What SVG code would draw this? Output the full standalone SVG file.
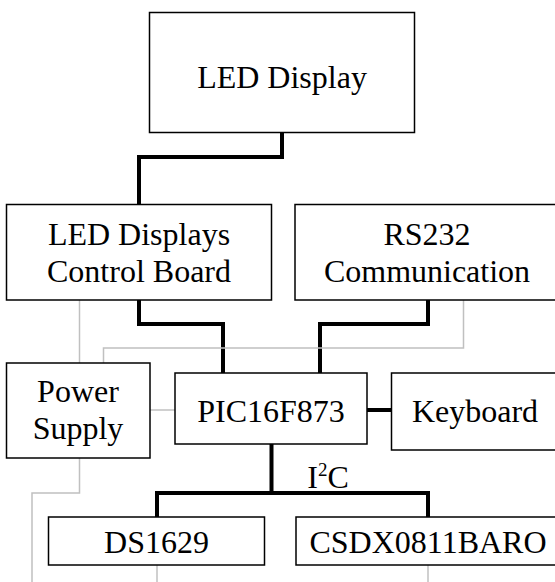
<svg xmlns="http://www.w3.org/2000/svg" width="555" height="582" viewBox="0 0 555 582">
<style>
.box{fill:#fff;stroke:#000;stroke-width:1.5}
.t{font-family:"Liberation Serif","Times New Roman",serif;font-size:32px;fill:#000;text-anchor:middle}
.bus{fill:none;stroke:#000;stroke-width:4;stroke-linejoin:miter}
.pwr{fill:none;stroke:#c0c0c0;stroke-width:1.5}
</style>
<rect width="555" height="582" fill="#fff"/>
<g id="connectors">
<path class="bus" d="M282,133 V157 H139 V204"/>
<path class="bus" d="M139,300 V324 H223 V373"/>
<path class="bus" d="M428,300 V324 H320 V373"/>
<path class="bus" d="M367,410 H391"/>
<path class="bus" d="M271.5,444 V493 M157,517 V493 H428 V517"/>
<path class="pwr" d="M79.5,300 V363"/>
<path class="pwr" d="M463.5,300 V348 H103.5 V363"/>
<path class="pwr" d="M150,410 H175"/>
<path class="pwr" d="M79.5,458 V493 H32 V582"/>
<path class="pwr" d="M157,565 V582"/>
<path class="pwr" d="M428,565 V582"/>
<text class="t" x="328" y="488">I<tspan font-size="19" dy="-12">2</tspan><tspan dy="12">C</tspan></text>
</g>
<g id="led-display">
<rect class="box" x="149.5" y="12.5" width="265" height="120"/>
<text class="t" x="282" y="88">LED Display</text>
</g>
<g id="led-control-board">
<rect class="box" x="6.5" y="204.5" width="265" height="95.5"/>
<text class="t" x="139" y="245">LED Displays</text>
<text class="t" x="139" y="282">Control Board</text>
</g>
<g id="rs232">
<rect class="box" x="295" y="204.5" width="265" height="95.5"/>
<text class="t" x="427" y="245">RS232</text>
<text class="t" x="427" y="282">Communication</text>
</g>
<g id="power-supply">
<rect class="box" x="6.5" y="363" width="143.5" height="95"/>
<text class="t" x="78" y="402">Power</text>
<text class="t" x="78" y="439">Supply</text>
</g>
<g id="pic">
<rect class="box" x="175" y="373" width="192" height="71"/>
<text class="t" x="271" y="422">PIC16F873</text>
</g>
<g id="keyboard">
<rect class="box" x="391.5" y="373" width="170" height="77"/>
<text class="t" x="475" y="422">Keyboard</text>
</g>
<g id="ds1629">
<rect class="box" x="48.5" y="517" width="216" height="48"/>
<text class="t" x="156.5" y="553">DS1629</text>
</g>
<g id="csdx">
<rect class="box" x="296" y="517" width="265" height="48"/>
<text class="t" x="428" y="553">CSDX0811BARO</text>
</g>
</svg>
